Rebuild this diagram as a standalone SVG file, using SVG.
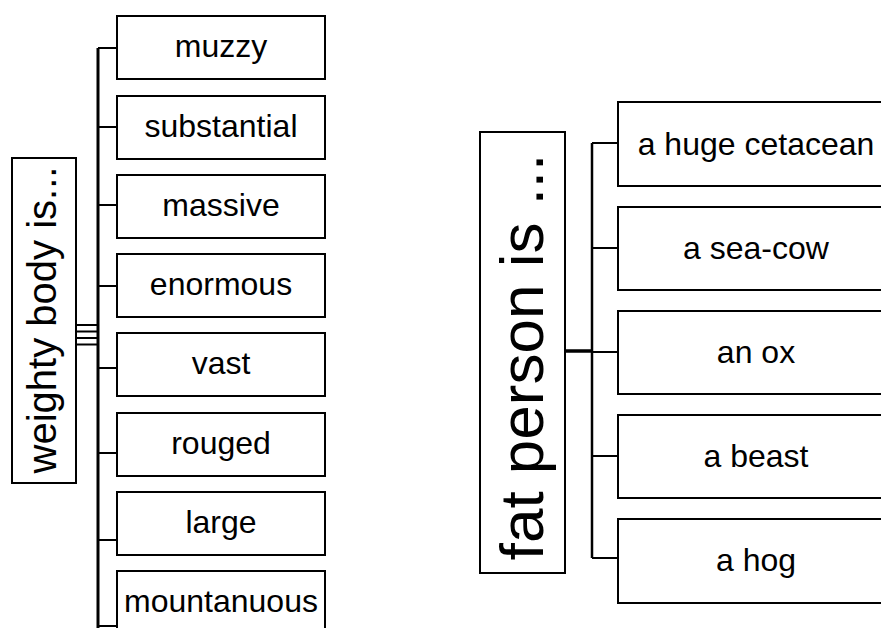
<svg xmlns="http://www.w3.org/2000/svg" width="881" height="628" viewBox="0 0 881 628">
<style>
.box{fill:#fff;stroke:#000;stroke-width:2}
.t{font-family:"Liberation Sans",Arial,sans-serif;font-size:32px;fill:#000;text-anchor:middle}
.root{font-family:"Liberation Sans",Arial,sans-serif;fill:#000;text-anchor:middle}
.ln{stroke:#000;stroke-width:2;fill:none}
.tr{stroke:#000;stroke-width:3;fill:none}
</style>
<rect width="881" height="628" fill="#fff"/>
<g id="connectors">
<path class="tr" d="M98,48V628"/>
<path class="ln" d="M76,325H98M76,331.5H98M76,338H98M76,344.5H98"/>
<path class="ln" d="M98,48H117M98,127H117M98,205H117M98,286H117M98,368H117M98,453H117M98,540H117M98,626H117"/>
<path class="ln" style="stroke-width:2.5" d="M592,143V558"/>
<path class="ln" style="stroke-width:3.5" d="M565,351H592"/>
<path class="ln" d="M592,143H618M592,248H618M592,352H618M592,456H618M592,558H618"/>
</g>
<g id="root-weighty">
<rect class="box" x="12" y="158" width="64" height="325"/>
<text class="root" font-size="40" transform="translate(56,320) rotate(-90)">weighty body is...</text>
</g>
<g id="n-muzzy"><rect class="box" x="117" y="16" width="208" height="63"/><text class="t" x="221" y="57">muzzy</text></g>
<g id="n-substantial"><rect class="box" x="117" y="96" width="208" height="63"/><text class="t" x="221" y="137">substantial</text></g>
<g id="n-massive"><rect class="box" x="117" y="175" width="208" height="63"/><text class="t" x="221" y="216">massive</text></g>
<g id="n-enormous"><rect class="box" x="117" y="254" width="208" height="63"/><text class="t" x="221" y="295">enormous</text></g>
<g id="n-vast"><rect class="box" x="117" y="333" width="208" height="63"/><text class="t" x="221" y="374">vast</text></g>
<g id="n-rouged"><rect class="box" x="117" y="413" width="208" height="63"/><text class="t" x="221" y="454">rouged</text></g>
<g id="n-large"><rect class="box" x="117" y="492" width="208" height="63"/><text class="t" x="221" y="533">large</text></g>
<g id="n-mountanuous"><rect class="box" x="117" y="571" width="208" height="63"/><text class="t" x="221" y="612">mountanuous</text></g>
<g id="root-fat">
<rect class="box" x="480" y="132" width="85" height="441"/>
<text class="root" font-size="62" transform="translate(543,357) rotate(-90)">fat person is ...</text>
</g>
<g id="n-cetacean"><rect class="box" x="618" y="102" width="280" height="84"/><text class="t" x="756" y="155">a huge cetacean</text></g>
<g id="n-seacow"><rect class="box" x="618" y="207" width="280" height="83"/><text class="t" x="756" y="259">a sea-cow</text></g>
<g id="n-ox"><rect class="box" x="618" y="311" width="280" height="83"/><text class="t" x="756" y="363">an ox</text></g>
<g id="n-beast"><rect class="box" x="618" y="415" width="280" height="83"/><text class="t" x="756" y="467">a beast</text></g>
<g id="n-hog"><rect class="box" x="618" y="519" width="280" height="84"/><text class="t" x="756" y="571">a hog</text></g>
</svg>
